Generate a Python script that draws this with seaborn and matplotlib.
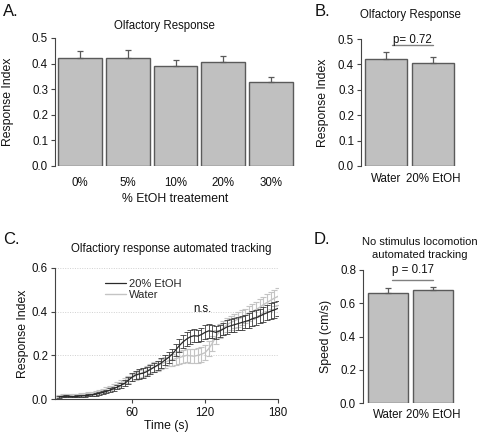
import numpy as np
import pandas as pd
import matplotlib
matplotlib.use("Agg")
import matplotlib.pyplot as plt
import seaborn as sns

# ---------------- data ----------------
conc_labels = ["0%", "5%", "10%", "20%", "30%"]
conc_means = [0.420, 0.421, 0.391, 0.405, 0.327]
conc_sems = [0.030, 0.032, 0.024, 0.026, 0.020]

b_labels = ["Water", "20% EtOH"]
b_means = [0.420, 0.405]
b_sems = [0.030, 0.026]
b_pval = "p= 0.72"

d_labels = ["Water", "20% EtOH"]
d_means = [0.662, 0.682]
d_sems = [0.028, 0.017]
d_pval = "p = 0.17"

times = [0, 3, 6, 9, 12, 15, 18, 21, 24, 27, 30, 33, 36, 39, 42, 45, 48, 51, 54, 57,
         60, 63, 66, 69, 72, 75, 78, 81, 84, 87, 90, 93, 96, 99, 102, 105, 108, 111, 114, 117,
         120, 123, 126, 129, 132, 135, 138, 141, 144, 147, 150, 153, 156, 159, 162, 165, 168, 171, 174, 177, 180]
etoh_mean = [0.010, 0.012, 0.013, 0.012, 0.011, 0.012, 0.014, 0.015, 0.017, 0.019,
             0.022, 0.026, 0.030, 0.035, 0.041, 0.047, 0.055, 0.063, 0.072, 0.085,
             0.100, 0.110, 0.115, 0.118, 0.125, 0.135, 0.145, 0.155, 0.165, 0.178,
             0.190, 0.205, 0.225, 0.245, 0.262, 0.275, 0.285, 0.290, 0.288, 0.295,
             0.305, 0.312, 0.310, 0.305, 0.312, 0.320, 0.330, 0.335, 0.340, 0.345,
             0.350, 0.355, 0.360, 0.368, 0.372, 0.380, 0.388, 0.395, 0.402, 0.408, 0.415]
etoh_sem = [0.004, 0.004, 0.004, 0.004, 0.004, 0.005, 0.005, 0.005, 0.005, 0.006,
            0.006, 0.007, 0.007, 0.008, 0.009, 0.010, 0.011, 0.012, 0.013, 0.015,
            0.018, 0.020, 0.022, 0.022, 0.020, 0.020, 0.020, 0.021, 0.022, 0.024,
            0.025, 0.026, 0.028, 0.030, 0.030, 0.031, 0.032, 0.030, 0.028, 0.030,
            0.032, 0.033, 0.030, 0.028, 0.028, 0.029, 0.030, 0.030, 0.031, 0.031,
            0.032, 0.032, 0.033, 0.033, 0.034, 0.034, 0.035, 0.035, 0.036, 0.036, 0.036]
water_mean = [0.015, 0.016, 0.017, 0.017, 0.018, 0.019, 0.020, 0.022, 0.024, 0.027,
              0.030, 0.034, 0.039, 0.045, 0.051, 0.058, 0.066, 0.074, 0.082, 0.090,
              0.098, 0.106, 0.114, 0.122, 0.130, 0.138, 0.146, 0.152, 0.160, 0.168,
              0.175, 0.180, 0.185, 0.190, 0.195, 0.200, 0.198, 0.196, 0.200, 0.205,
              0.212, 0.230, 0.255, 0.285, 0.310, 0.325, 0.340, 0.350, 0.358, 0.365,
              0.372, 0.380, 0.390, 0.400, 0.410, 0.420, 0.432, 0.442, 0.452, 0.462, 0.470]
water_sem = [0.005, 0.005, 0.005, 0.005, 0.005, 0.005, 0.006, 0.006, 0.006, 0.007,
             0.007, 0.008, 0.008, 0.009, 0.010, 0.011, 0.012, 0.013, 0.014, 0.015,
             0.016, 0.017, 0.018, 0.019, 0.020, 0.021, 0.022, 0.023, 0.024, 0.025,
             0.026, 0.027, 0.028, 0.029, 0.030, 0.031, 0.032, 0.033, 0.034, 0.034,
             0.035, 0.035, 0.034, 0.033, 0.032, 0.032, 0.032, 0.032, 0.033, 0.033,
             0.034, 0.034, 0.035, 0.035, 0.036, 0.036, 0.037, 0.037, 0.038, 0.038, 0.038]

# ---------------- style ----------------
sns.set_style("ticks")
plt.rcParams["font.family"] = ["Liberation Sans", "DejaVu Sans"]
plt.rcParams["font.size"] = 8.3

FS = 8.3      # ticks, titles
FSL = 8.8     # axis labels
BAR_FILL = "#c0c0c0"
BAR_EDGE = "#5a5a5a"
AX_COL = "#444444"
TXT_COL = "#111111"

W, H = 483, 433
fig = plt.figure(figsize=(W / 100, H / 100), dpi=100)


def add_ax(l, t, r, b):
    return fig.add_axes([l / W, 1 - b / H, (r - l) / W, (b - t) / H])


def style_bar_ax(ax, ymax, ystep, xlim, xpad):
    for s in ["top", "right", "bottom"]:
        ax.spines[s].set_visible(False)
    ax.spines["left"].set_color(AX_COL)
    ax.spines["left"].set_linewidth(0.8)
    ax.set_ylim(0, ymax)
    ax.set_yticks(np.round(np.arange(0, ymax + 1e-9, ystep), 2))
    ax.yaxis.set_major_formatter(matplotlib.ticker.FormatStrFormatter("%.1f"))
    ax.set_xlim(*xlim)
    ax.tick_params(axis="y", length=3, width=0.8, color=AX_COL, pad=2, labelsize=FS, labelcolor=TXT_COL)
    ax.tick_params(axis="x", length=0, pad=xpad, labelsize=FS, labelcolor=TXT_COL)
    ax.set_xlabel("")


def bars(ax, labels, means, sems, width):
    df = pd.DataFrame({"cat": labels, "val": means})
    sns.barplot(data=df, x="cat", y="val", order=labels, color=BAR_FILL, width=width,
                edgecolor=BAR_EDGE, linewidth=1.0, saturation=1, errorbar=None, ax=ax)
    for p in ax.patches:
        p.set_facecolor(BAR_FILL)
    xs = np.arange(len(labels))
    ax.errorbar(xs, means, yerr=[np.zeros(len(sems)), sems], fmt="none",
                ecolor=BAR_EDGE, elinewidth=0.9, capsize=2.2, capthick=0.9, zorder=1)


# ---------------- panel A ----------------
axA = add_ax(55, 38, 296, 166)
bars(axA, conc_labels, conc_means, conc_sems, 0.92)
style_bar_ax(axA, 0.5, 0.1, (-0.52, 4.52), 8)
axA.set_xlabel("% EtOH treatement", fontsize=FSL, labelpad=3, color=TXT_COL)
axA.set_ylabel("Response Index", fontsize=FSL, color=TXT_COL)
axA.yaxis.set_label_coords((14 - 55) / 241, 0.5)

# ---------------- panel B ----------------
axB = add_ax(361, 39, 458, 166)
bars(axB, b_labels, b_means, b_sems, 0.89)
style_bar_ax(axB, 0.5, 0.1, (-0.53, 1.53), 5)
axB.set_ylabel("Response Index", fontsize=FSL, color=TXT_COL)
axB.yaxis.set_label_coords((329 - 361) / 97, 0.5)
axB.plot([0.13, 1.0], [0.476, 0.476], color="#808080", lw=1.0, clip_on=False)
axB.text(0.56, 0.498, b_pval, ha="center", va="center", fontsize=FS, color=TXT_COL, clip_on=False)

# ---------------- panel C ----------------
axC = add_ax(55, 268, 278, 399)
for y in [0.2, 0.4, 0.6]:
    axC.axhline(y, color="#d0d0d0", lw=0.7, ls=(0, (1, 1.5)), zorder=0)
axC.errorbar(times, water_mean, yerr=water_sem, fmt="none", ecolor="#c4c4c4",
             elinewidth=0.8, capsize=2, capthick=0.8, zorder=2)
sns.lineplot(x=times, y=water_mean, color="#c4c4c4", lw=1.0, ax=axC, label="Water", zorder=2)
axC.errorbar(times, etoh_mean, yerr=etoh_sem, fmt="none", ecolor="#3a3a3a",
             elinewidth=0.6, capsize=2, capthick=0.6, zorder=3)
sns.lineplot(x=times, y=etoh_mean, color="#2a2a2a", lw=0.9, ax=axC, label="20% EtOH", zorder=3)
axC.set_xlim(-3.3, 180)
axC.set_ylim(0, 0.6)
axC.set_xticks([60, 120, 180])
axC.set_yticks([0.0, 0.2, 0.4, 0.6])
axC.yaxis.set_major_formatter(matplotlib.ticker.FormatStrFormatter("%.1f"))
for s in ["top", "right"]:
    axC.spines[s].set_visible(False)
for s in ["left", "bottom"]:
    axC.spines[s].set_color(AX_COL)
    axC.spines[s].set_linewidth(0.8)
axC.tick_params(axis="both", length=3, width=0.8, color=AX_COL, labelsize=FS, labelcolor=TXT_COL)
axC.tick_params(axis="y", pad=2)
axC.tick_params(axis="x", pad=3)
axC.set_xlabel("Time (s)", fontsize=FSL, labelpad=0.5, color=TXT_COL)
axC.set_ylabel("Response Index", fontsize=FSL, color=TXT_COL)
axC.yaxis.set_label_coords((29 - 55) / 223, 0.5)
h, l = axC.get_legend_handles_labels()
order = [l.index("20% EtOH"), l.index("Water")]
axC.legend([h[i] for i in order], [l[i] for i in order], loc="upper left",
           bbox_to_anchor=((105 - 55) / 223, (399 - 279) / 131), frameon=False,
           fontsize=8, handlelength=1.9, handletextpad=0.3, borderpad=0, borderaxespad=0,
           labelspacing=0.1)
axC.text(118, 0.412, "n.s.", ha="center", va="center", fontsize=FS, color=TXT_COL)

# ---------------- panel D ----------------
axD = add_ax(363, 270, 456, 403)
bars(axD, d_labels, d_means, d_sems, 0.89)
style_bar_ax(axD, 0.8, 0.2, (-0.556, 1.51), 4.5)
axD.set_ylabel("Speed (cm/s)", fontsize=FSL, color=TXT_COL)
axD.yaxis.set_label_coords((332 - 363) / 93, 0.5)
axD.plot([0.09, 1.0], [0.74, 0.74], color="#808080", lw=1.0, clip_on=False)
axD.text(0.55, 0.797, d_pval, ha="center", va="center", fontsize=FS, color=TXT_COL, clip_on=False)

# ---------------- titles & panel letters ----------------
def ftext(x, y, s, **kw):
    fig.text(x / W, 1 - y / H, s, **kw)

ftext(164, 26, "Olfactory Response", ha="center", va="center", fontsize=FS, color=TXT_COL)
ftext(410, 15, "Olfactory Response", ha="center", va="center", fontsize=FS, color=TXT_COL)
ftext(171, 249, "Olfactiory response automated tracking", ha="center", va="center", fontsize=FS, color=TXT_COL)
ftext(420, 242, "No stimulus locomotion", ha="center", va="center", fontsize=8, color=TXT_COL)
ftext(420, 255, "automated tracking", ha="center", va="center", fontsize=8, color=TXT_COL)

ftext(3, 11, "A.", ha="left", va="center", fontsize=12, color=TXT_COL)
ftext(315, 11, "B.", ha="left", va="center", fontsize=12, color=TXT_COL)
ftext(3, 240, "C.", ha="left", va="center", fontsize=12, color=TXT_COL)
ftext(314, 240, "D.", ha="left", va="center", fontsize=12, color=TXT_COL)

fig.savefig("out.png", dpi=100)
